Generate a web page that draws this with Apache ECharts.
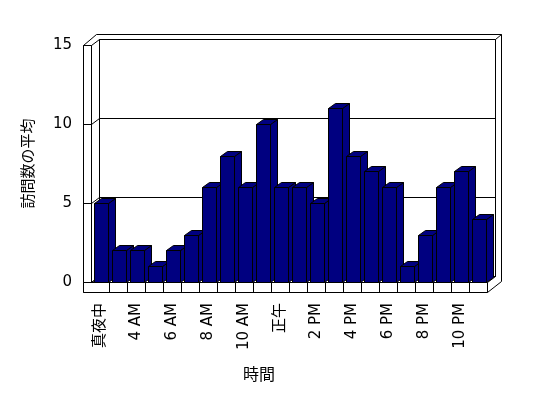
<!DOCTYPE html>
<html>
<head>
<meta charset="utf-8">
<script src="https://cdn.jsdelivr.net/npm/echarts@6/dist/echarts.min.js"></script>
<style>
  html, body { margin: 0; padding: 0; background: #fff; }
  #main { width: 548px; height: 398px; }
</style>
</head>
<body>
<div id="main"></div>
<script>
var hours = ['真夜中', '2 AM', '4 AM', '5 AM', '6 AM', '7 AM', '8 AM', '9 AM', '10 AM', '11 AM', '正午',
  '1 PM', '2 PM', '3 PM', '4 PM', '5 PM', '6 PM', '7 PM', '8 PM', '9 PM', '10 PM', '11 PM'];
var visits = [5, 2, 2, 1, 2, 3, 6, 8, 6, 10, 6, 6, 5, 11, 8, 7, 6, 1, 3, 6, 7, 4];
var yTicks = [0, 5, 10, 15];

var FONT = 'Noto Sans CJK JP';
var LABEL_FONT = '"DejaVu Sans", "Noto Sans CJK JP"';
// 奥行き (壁 / 棒)
var WALL_DX = 8, WALL_DY = -6;
var BAR_DX = 7, BAR_DY = -5;

function px(v) {
  return Math.round(v) + 0.5;
}

function line(x1, y1, x2, y2) {
  return {
    type: 'line',
    shape: { x1: px(x1), y1: px(y1), x2: px(x2), y2: px(y2) },
    style: { stroke: '#000', lineWidth: 1 }
  };
}

function poly(points, fill) {
  return {
    type: 'polygon',
    shape: { points: points.map(function (p) { return [px(p[0]), px(p[1])]; }) },
    style: { fill: fill, stroke: '#000', lineWidth: 1 }
  };
}

// 壁・床・目盛線
function renderFrame(params, api) {
  var cs = params.coordSys;
  var x0 = cs.x, x1 = cs.x + cs.width;
  var yTop = cs.y, yBot = cs.y + cs.height;
  var ch = [];

  // 外枠
  ch.push(poly([[x0 - 8, yTop], [x0 + 5, yTop - 11], [x1 + 14, yTop - 11],
    [x1 + 14, yBot - 1], [x1, yBot + 10], [x0 - 8, yBot + 10]], '#fff'));
  // 奥の壁
  ch.push(poly([[x0 + WALL_DX, yTop + WALL_DY], [x1 + WALL_DX, yTop + WALL_DY],
    [x1 + WALL_DX, yBot + WALL_DY], [x0 + WALL_DX, yBot + WALL_DY]], '#fff'));
  ch.push(line(x1 + WALL_DX, yTop + WALL_DY, x1 + 14, yTop - 11));
  // 左の壁
  ch.push(poly([[x0 - 8, yTop], [x0, yTop], [x0, yBot], [x0 - 8, yBot]], '#fff'));
  // 床
  ch.push(poly([[x0, yBot], [x1, yBot], [x1 + WALL_DX, yBot + WALL_DY], [x0 + WALL_DX, yBot + WALL_DY]], '#fff'));
  ch.push(poly([[x0 - 8, yBot], [x1, yBot], [x1, yBot + 10], [x0 - 8, yBot + 10]], '#fff'));

  // 目盛線
  yTicks.forEach(function (v) {
    var y = api.coord([0, v])[1];
    ch.push(line(x0 - 8, y, x0, y));
    ch.push(line(x0, y, x0 + WALL_DX, y + WALL_DY));
    ch.push(line(x0 + WALL_DX, y + WALL_DY, x1 + WALL_DX, y + WALL_DY));
  });

  // 項目の区切り
  var bw = cs.width / hours.length;
  for (var i = 1; i < hours.length; i++) {
    var x = x0 + i * bw;
    ch.push(line(x, yBot, x, yBot + 10));
  }
  return { type: 'group', children: ch };
}

function renderBar(params, api) {
  var top = api.coord([api.value(0), api.value(1)]);
  var base = api.coord([api.value(0), 0]);
  var bw = api.size([1, 0])[0];
  var xl = top[0] - bw / 2 + bw * 0.14;
  var xr = xl + bw * 0.83;
  var yt = top[1], yb = base[1];
  var fill = '#000080';
  return {
    type: 'group',
    children: [
      poly([[xr, yt], [xr + BAR_DX, yt + BAR_DY], [xr + BAR_DX, yb + BAR_DY], [xr, yb]], fill),
      poly([[xl, yt], [xr, yt], [xr + BAR_DX, yt + BAR_DY], [xl + BAR_DX, yt + BAR_DY]], fill),
      poly([[xl, yt], [xr, yt], [xr, yb], [xl, yb]], fill)
    ]
  };
}

var chart = echarts.init(document.getElementById('main'));

var option = {
  animation: false,
  backgroundColor: '#fff',
  grid: {
    left: 91,
    top: 45,
    right: 61,
    bottom: 116
  },
  title: {
    text: '時間',
    left: 243,
    top: 366,
    padding: 0,
    textStyle: { fontFamily: FONT, fontSize: 16, fontWeight: 'normal', color: '#000' }
  },
  xAxis: {
    type: 'category',
    data: hours,
    axisLine: { show: false },
    axisTick: { show: false },
    axisLabel: {
      rotate: 90,
      interval: 1,
      margin: 21,
      fontFamily: LABEL_FONT,
      fontSize: 15,
      color: '#000'
    }
  },
  yAxis: {
    type: 'value',
    min: 0,
    max: 15,
    interval: 5,
    name: '訪問数の平均',
    nameLocation: 'middle',
    nameGap: 56,
    nameTextStyle: { fontFamily: FONT, fontSize: 15, color: '#000' },
    axisLine: { show: false },
    axisTick: { show: false },
    splitLine: { show: false },
    axisLabel: {
      margin: 19,
      fontFamily: LABEL_FONT,
      fontSize: 15,
      color: '#000'
    }
  },
  series: [
    {
      type: 'custom',
      silent: true,
      z: 1,
      renderItem: renderFrame,
      data: [[0, 0]]
    },
    {
      type: 'custom',
      z: 2,
      renderItem: renderBar,
      encode: { x: 0, y: 1 },
      data: visits.map(function (v, i) { return [i, v]; })
    }
  ]
};

chart.setOption(option);
</script>
</body>
</html>
